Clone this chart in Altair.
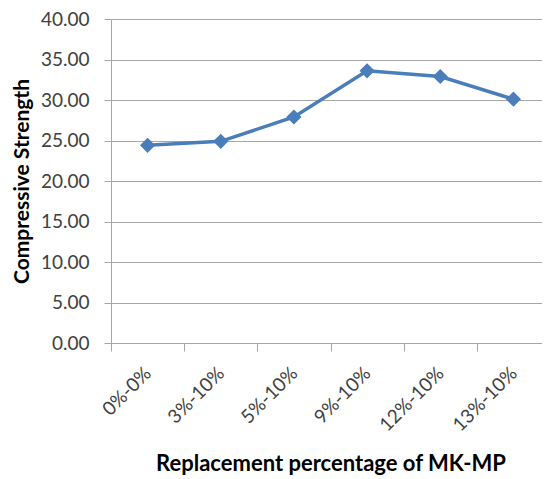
import altair as alt
import pandas as pd

categories = ["0%-0%", "3%-10%", "5%-10%", "9%-10%", "12%-10%", "13%-10%"]
strength = [24.4, 24.9, 27.9, 33.6, 32.9, 30.1]
y_ticks = [0, 5, 10, 15, 20, 25, 30, 35, 40]

df = pd.DataFrame({"cat": categories, "val": strength})

FONT = "Lato"
GRAY = "#a6a6a6"
BLUE = "#4a7ebb"

x = alt.X(
    "cat:N",
    sort=categories,
    scale=alt.Scale(paddingInner=0, paddingOuter=0),
    axis=alt.Axis(
        title="Replacement percentage of MK-MP",
        titleFont=FONT, titleFontSize=22, titleFontWeight="bold", titleColor="#000000",
        titlePadding=19,
        labelFont=FONT, labelFontSize=19, labelColor="#404040",
        labelAngle=-45, labelAlign="right", labelBaseline="middle", labelPadding=19,
        tickBand="extent", tickSize=8, tickColor=GRAY, domainColor=GRAY,
        grid=False,
    ),
)
y = alt.Y(
    "val:Q",
    scale=alt.Scale(domain=[0, 40], nice=False, zero=True),
    axis=alt.Axis(
        title="Compressive Strength",
        titleFont=FONT, titleFontSize=21, titleFontWeight="bold", titleColor="#000000",
        titleX=-89, titleBaseline="middle",
        labelFont=FONT, labelFontSize=19, labelColor="#404040", format=".2f",
        values=y_ticks, tickSize=7, tickColor=GRAY, domainColor=GRAY,
        grid=True, gridColor=GRAY, gridWidth=1, labelPadding=15,
    ),
)

line = alt.Chart(df).mark_line(color=BLUE, strokeWidth=3.5).encode(x=x, y=y)
pts = alt.Chart(df).mark_point(shape="diamond", filled=True, size=230, color=BLUE, opacity=1).encode(x=x, y=y)

chart = (line + pts).properties(
    width=439, height=324,
    autosize=alt.AutoSizeParams(type="none"),
    padding={"left": 103, "top": 11, "right": -8, "bottom": 134},
).configure_view(stroke=None).configure(background="#ffffff")

chart.save("out.html", embed_options={"renderer": "svg", "actions": False})
